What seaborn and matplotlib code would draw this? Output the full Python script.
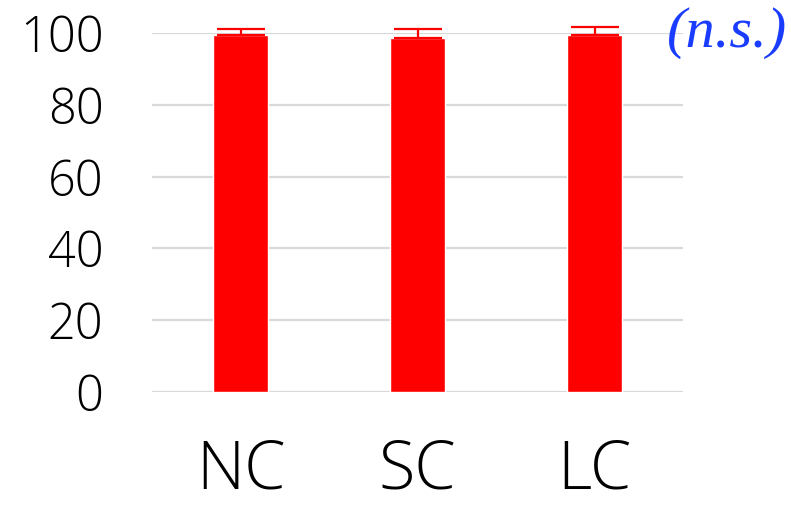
import matplotlib
matplotlib.use("Agg")
import matplotlib.pyplot as plt
import seaborn as sns
import pandas as pd
import numpy as np

categories = ["NC", "SC", "LC"]
values = [99.6, 98.7, 99.6]
errors = [1.6, 2.5, 2.2]
y_ticks = [0, 20, 40, 60, 80, 100]
annotation = "(n.s.)"

sns.set_theme(style="white")
plt.rcParams['font.family'] = ['Open Sans', 'DejaVu Sans']

df = pd.DataFrame({"group": categories, "value": values})

fig = plt.figure(figsize=(7.91, 5.05), dpi=100)
ax = fig.add_axes([0.1922, 0.2244, 0.6713, 0.7093])

sns.barplot(data=df, x="group", y="value", color="#ff0000", saturation=1,
            width=0.31, errorbar=None, ax=ax, zorder=3)
ax.errorbar(np.arange(len(categories)), values,
            yerr=[np.zeros(len(errors)), errors], fmt="none",
            ecolor="#ff0000", elinewidth=1.6, capsize=17.3, capthick=1.6,
            zorder=4, clip_on=False)

ax.set_ylim(0, 100)
ax.set_xlim(-0.5, 2.5)
ax.set_yticks(y_ticks)
ax.yaxis.grid(True, color="#d9d9d9", linewidth=1.6, zorder=0)
ax.set_axisbelow(True)
for s in ax.spines.values():
    s.set_visible(False)
ax.tick_params(axis="both", length=0)
ax.tick_params(axis="y", pad=35, labelsize=35, labelcolor="black")
ax.tick_params(axis="x", pad=33, labelsize=48, labelcolor="black")
for lab in ax.get_yticklabels() + ax.get_xticklabels():
    lab.set_fontweight("light")
    lab.set_color("black")
ax.set_xlabel("")
ax.set_ylabel("")

fig.text(0.919, 0.935, annotation, fontsize=42, color="#1a3cff",
         family=["Liberation Serif", "DejaVu Serif"], style="italic",
         ha="center", va="center")

fig.savefig("out.png", dpi=100)
